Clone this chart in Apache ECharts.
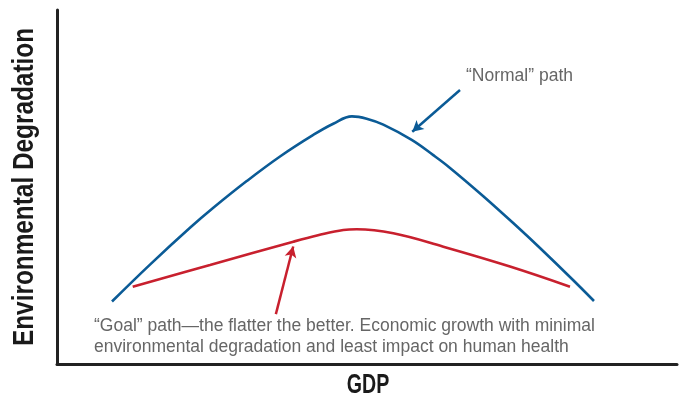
<!DOCTYPE html>
<html><head><meta charset="utf-8">
<script src="https://cdn.jsdelivr.net/npm/echarts@6/dist/echarts.min.js"></script>
<style>html,body{margin:0;padding:0;background:#fff}#c{width:680px;height:400px}</style>
</head><body><div id="c"></div>
<script>
// GDP (x) and environmental degradation (y) on a 0-100 scale
const normalX = [8.87, 15.0, 21.45, 25.21, 30.60, 35.97, 41.34, 44.56, 47.58, 49.95, 52.63, 57.21, 60.69, 63.39, 68.76, 74.15, 77.90, 83.23, 86.61];
const normalY = [17.66, 28.08, 38.47, 44.12, 51.67, 58.62, 64.72, 67.88, 69.94, 69.29, 67.60, 63.30, 59.00, 55.40, 47.40, 38.90, 32.77, 23.73, 17.80];
const goalX = [12.21, 24.68, 38.11, 42.1, 46.18, 48.34, 54.24, 62.31, 73.06, 82.74];
const goalY = [21.84, 27.97, 34.55, 36.36, 37.85, 38.05, 36.92, 33.14, 27.54, 21.84];
const normalArrow = [[65.0, 77.4], [57.3, 65.6]];
const goalArrow = [[35.3, 14.1], [38.1, 33.2]];
const xTitle = 'GDP';
const yTitle = 'Environmental Degradation';
const normalLabel = '\u201cNormal\u201d path';
const goalLabel = ['\u201cGoal\u201d path\u2014the flatter the better. Economic growth with minimal', 'environmental degradation and least impact on human health'];

const BLUE = '#0b5b96', RED = '#c8202e';
const zip = (a, b) => a.map((v, i) => [v, b[i]]);
const chart = echarts.init(document.getElementById('c'), null, {renderer: 'canvas'});
const arrowLine = (pts, color) => ({
  silent: true, symbol: ['none', 'arrow'], symbolSize: [9, 11],
  lineStyle: {color: color, width: 2.5, type: 'solid'}, label: {show: false},
  data: [[{coord: pts[0]}, {coord: pts[1]}]]
});
const titleStyle = {fontFamily: 'Liberation Sans', fontWeight: 'bold', fill: '#1a1a1a', align: 'center', verticalAlign: 'middle'};
chart.setOption({
  animation: false,
  grid: {left: 57, right: 3, top: 10, bottom: 36, outerBoundsMode: 'none', containLabel: false},
  xAxis: {type: 'value', min: 0, max: 100,
    axisLine: {show: true, lineStyle: {color: '#222', width: 3}}, axisTick: {show: false},
    axisLabel: {show: false}, splitLine: {show: false}},
  yAxis: {type: 'value', min: 0, max: 100,
    axisLine: {show: true, lineStyle: {color: '#222', width: 3}}, axisTick: {show: false},
    axisLabel: {show: false}, splitLine: {show: false}},
  series: [
    {type: 'line', data: zip(normalX, normalY), smooth: 0.4, showSymbol: false,
      lineStyle: {color: BLUE, width: 2.6}, markLine: arrowLine(normalArrow, BLUE)},
    {type: 'line', data: zip(goalX, goalY), smooth: 0.4, showSymbol: false,
      lineStyle: {color: RED, width: 2.6}, markLine: arrowLine(goalArrow, RED)}
  ],
  graphic: [
    {type: 'text', x: 368, y: 385, scaleX: 0.7, style: Object.assign({text: xTitle, fontSize: 28}, titleStyle)},
    {type: 'text', x: 25, y: 187, rotation: Math.PI / 2, scaleX: 0.84, style: Object.assign({text: yTitle, fontSize: 29}, titleStyle)},
    {type: 'text', left: 466, top: 67, style: {text: normalLabel, fontFamily: 'Liberation Sans', fontSize: 17.5, fill: '#666'}},
    {type: 'text', left: 94, top: 316, style: {text: goalLabel.join('\n'), fontFamily: 'Liberation Sans', fontSize: 17.5, lineHeight: 21, fill: '#666'}}
  ]
});
</script></body></html>
